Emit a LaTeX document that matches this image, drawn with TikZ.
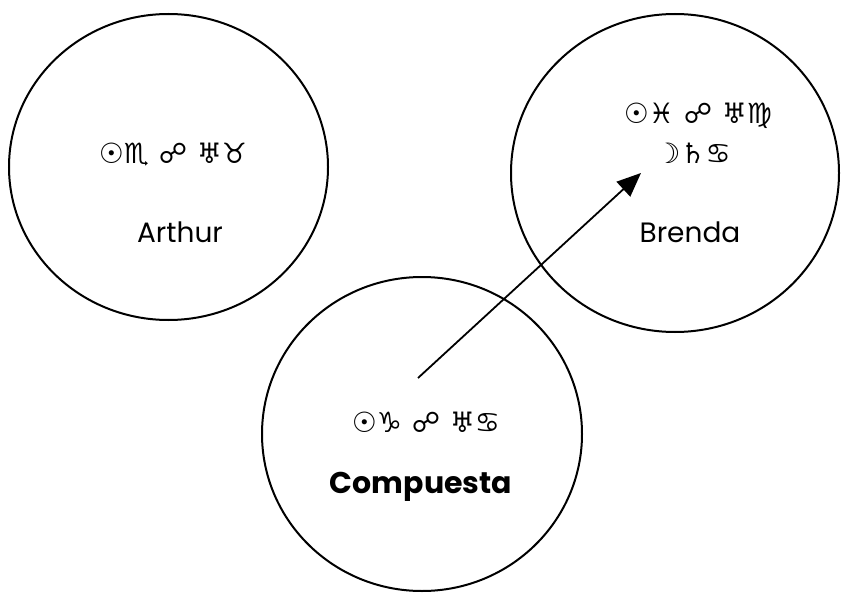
\documentclass[tikz,border=0pt]{standalone}
\usepackage{fontspec}
\setmainfont{Poppins}
\newfontfamily\symfont{DejaVu Sans}
\usetikzlibrary{arrows.meta,shapes.geometric}
\tikzset{
  syms/.style={font=\symfont\bfseries\fontsize{28}{33}\selectfont, align=center, inner sep=0pt},
  lbl/.style={font=\fontsize{28}{33}\selectfont, inner sep=0pt},
  lblb/.style={font=\fontsize{30}{35}\selectfont\bfseries, inner sep=0pt},
  ring/.style={line width=2pt},
  arr/.style={line width=1.8pt, -{Triangle[length=24pt,width=20pt]}}
}
\begin{document}
\begin{tikzpicture}[x=1pt,y=-1pt]
\useasboundingbox (0,0) rectangle (841,594);
\fill[white] (0,0) rectangle (841,594);
\draw[ring] (168.5,167) ellipse [x radius=159.5, y radius=153];
\draw[ring] (675,173) ellipse [x radius=164, y radius=159];
\draw[ring] (422,434) ellipse [x radius=160, y radius=157];
\node[syms] (as) at (173,155) {☉♏ ☍ ♅♉};
\node[lbl] (an) at (180,232) {Arthur};
\node[syms] (bs) at (698,116) {☉♓ ☍ ♅♍};
\node[syms] (bs2) at (693,153) {☽♄♋};
\node[lbl] (bn) at (690,232) {Brenda};
\node[syms] (cs) at (426,422) {☉♑ ☍ ♅♋};
\node[lblb] (cn) at (421,487) {Compuesta};
\coordinate (tail) at (418,378);
\coordinate (tip) at (641,173);
\draw[arr] (tail) -- (tip);
\end{tikzpicture}
\end{document}
